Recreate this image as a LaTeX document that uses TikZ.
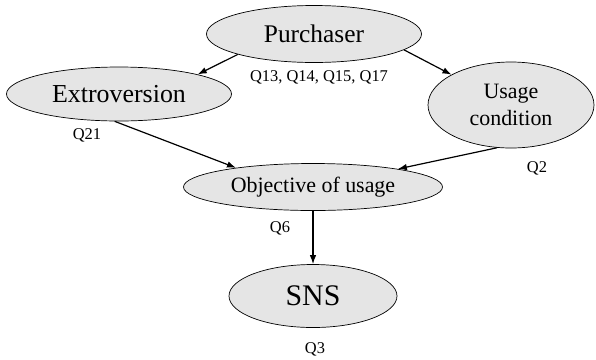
\documentclass[tikz,border=0pt]{standalone}
\usepackage{fontspec}
\setmainfont{Liberation Serif}
\usetikzlibrary{shapes.geometric,arrows.meta}
\tikzset{
  ebox/.style={ellipse, draw=black, line width=0.7bp, fill=black!10, inner sep=0pt},
  qlab/.style={inner sep=0pt, font=\fontsize{16.5}{20}\selectfont},
  conn/.style={line width=1.2bp, -{Latex[length=9bp,width=6.5bp]}}
}
\begin{document}
\begin{tikzpicture}[x=1bp,y=-1bp]
\useasboundingbox (0,0) rectangle (596,359);
\node[ebox, minimum width=215bp, minimum height=57bp, font=\fontsize{25.5}{30}\selectfont] (P) at (314,34) {Purchaser};
\node[ebox, minimum width=225bp, minimum height=54bp, font=\fontsize{26}{30}\selectfont] (E) at (119,94) {Extroversion};
\node[ebox, minimum width=166bp, minimum height=86bp, align=center, font=\fontsize{22}{27}\selectfont] (U) at (511,105) {Usage\\condition};
\node[ebox, minimum width=259bp, minimum height=47bp, font=\fontsize{22}{26}\selectfont] (O) at (313,187) {Objective of usage};
\node[ebox, minimum width=168bp, minimum height=63bp, font=\fontsize{30}{36}\selectfont] (S) at (313,296) {SNS};
\node[qlab] (q1) at (319,77) {Q13, Q14, Q15, Q17};
\node[qlab] (q2) at (87,135) {Q21};
\node[qlab] (q3) at (537,168) {Q2};
\node[qlab] (q4) at (280,228) {Q6};
\node[qlab] (q5) at (315,349) {Q3};
\draw[conn] (P.195) -- (E.14);
\draw[conn] (P.350) -- (U.153);
\draw[conn] (E.261) -- (O.166);
\draw[conn] (U.252) -- (O.12);
\draw[conn] (O.south) -- (S.north);
\end{tikzpicture}
\end{document}
